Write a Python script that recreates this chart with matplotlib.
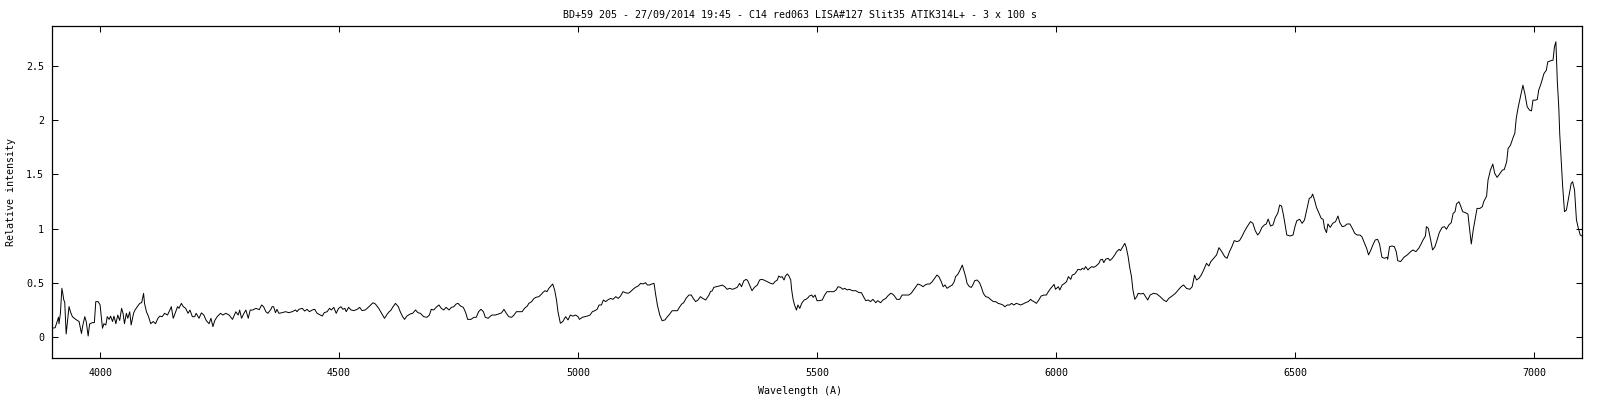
import matplotlib
matplotlib.use("Agg")
import matplotlib.pyplot as plt

title = "BD+59 205 - 27/09/2014 19:45 - C14 red063 LISA#127 Slit35 ATIK314L+ - 3 x 100 s"
xlabel = "Wavelength (A)"
ylabel = "Relative intensity"
xticks = [4000, 4500, 5000, 5500, 6000, 6500, 7000]
yticks = [0, 0.5, 1, 1.5, 2, 2.5]
yticklabels = ["0", "0.5", "1", "1.5", "2", "2.5"]

wavelength = [
    3900, 3906, 3910, 3913, 3914, 3917, 3920, 3922, 3924, 3926, 3929, 3932, 3935, 3938, 3942,
    3949, 3956, 3961, 3964, 3968, 3971, 3975, 3978, 3984, 3988, 3991, 3996, 4000, 4005, 4008,
    4012, 4015, 4019, 4022, 4026, 4029, 4033, 4037, 4041, 4045, 4048, 4051, 4055, 4058, 4062,
    4065, 4070, 4073, 4078, 4083, 4087, 4091, 4093, 4097, 4101, 4106, 4111, 4116, 4121, 4125,
    4130, 4135, 4141, 4146, 4149, 4153, 4157, 4162, 4165, 4170, 4174, 4179, 4184, 4188, 4193,
    4198, 4201, 4207, 4212, 4217, 4222, 4228, 4232, 4236, 4240, 4245, 4252, 4257, 4263, 4270,
    4277, 4284, 4289, 4292, 4296, 4301, 4305, 4310, 4314, 4319, 4326, 4333, 4338, 4342, 4347,
    4351, 4357, 4360,
    4363, 4367, 4370, 4374, 4381, 4388, 4395, 4402, 4409, 4412, 4416, 4423, 4428, 4433, 4438,
    4444, 4449, 4454, 4461, 4465, 4469, 4475, 4480, 4484, 4489, 4494, 4499, 4504, 4508, 4512,
    4515, 4520, 4525, 4531, 4538, 4543, 4548, 4555, 4561, 4566, 4571, 4576, 4583, 4589, 4595,
    4601, 4605, 4609, 4612, 4618, 4624, 4628, 4633, 4637, 4642, 4649, 4654, 4660, 4665, 4670,
    4677, 4684, 4689, 4693, 4698, 4703, 4709, 4714, 4719, 4724, 4730, 4735, 4740, 4745, 4749,
    4754, 4760, 4765, 4769, 4776, 4782, 4787, 4792, 4797, 4802, 4806, 4812, 4817, 4820,
    4827, 4834, 4840, 4845, 4850, 4855, 4861, 4866, 4871, 4876, 4883, 4888, 4894, 4897, 4903,
    4908, 4912, 4918, 4924, 4926, 4931, 4935, 4939, 4942, 4947, 4951, 4955, 4958, 4963, 4968,
    4974, 4979, 4984, 4989, 4995, 5000, 5003, 5009, 5014, 5019, 5025, 5030, 5035, 5040, 5044,
    5049, 5053, 5058, 5062, 5068, 5073, 5079, 5084, 5089, 5094, 5099, 5105, 5110, 5115, 5120,
    5126, 5131, 5136, 5141, 5145, 5150, 5154, 5159, 5162, 5166, 5171, 5176, 5182, 5187, 5192,
    5197, 5208, 5212, 5217, 5221, 5226, 5232, 5237, 5241, 5246, 5251, 5256, 5261, 5267, 5274,
    5277, 5281,
    5284, 5289, 5295, 5302, 5307, 5312, 5317, 5323, 5327, 5333, 5338, 5342, 5347, 5352, 5355,
    5359, 5364, 5369, 5375, 5380, 5384, 5389, 5396, 5403, 5408, 5412, 5417, 5420, 5424, 5427,
    5431, 5434, 5438, 5441, 5445, 5447, 5450, 5453, 5457, 5460, 5464, 5468, 5473, 5477, 5482,
    5484, 5489, 5492, 5496, 5500, 5505, 5511, 5516, 5521, 5528, 5535, 5540, 5544, 5549, 5554,
    5558, 5563, 5568, 5574, 5581, 5588, 5593, 5598, 5602, 5607, 5612, 5617, 5623, 5627, 5633,
    5638, 5644, 5648, 5654, 5658, 5662, 5667, 5673, 5678, 5685, 5692, 5697, 5701, 5706, 5711,
    5717, 5722, 5726, 5731, 5736, 5741,
    5746, 5751, 5755, 5760, 5764, 5768, 5772, 5777, 5783, 5787, 5790, 5795, 5800, 5804, 5807,
    5811, 5814, 5819, 5823, 5826, 5830, 5835, 5840, 5844, 5848, 5853, 5858, 5863, 5869, 5874,
    5879, 5884, 5889, 5893, 5898, 5903, 5907, 5912, 5917, 5921, 5926, 5931, 5936, 5942, 5947,
    5950, 5954, 5959, 5964, 5969, 5975, 5980, 5984, 5989, 5992, 5996, 5999, 6005, 6008, 6013,
    6018, 6022, 6026, 6031, 6034, 6039, 6043, 6046, 6052, 6055, 6059, 6062, 6067, 6070, 6075,
    6079, 6084, 6090, 6093, 6097, 6100, 6104, 6109, 6113, 6118, 6123, 6127, 6132, 6135, 6139,
    6144, 6147, 6151, 6154, 6158, 6161, 6165, 6169, 6172, 6177,
    6183, 6192, 6197, 6204, 6211, 6218, 6225, 6231, 6236, 6243, 6250, 6257, 6262, 6267, 6273,
    6280, 6285, 6290, 6294, 6299, 6304, 6309, 6315, 6320, 6324, 6330, 6336, 6341, 6347, 6353,
    6358, 6363, 6368, 6373, 6379, 6384, 6389, 6394, 6400, 6407, 6412, 6417, 6422, 6426, 6431,
    6436, 6440, 6444, 6449, 6454, 6459, 6464, 6468, 6472, 6476, 6480, 6483, 6490, 6496, 6500,
    6504, 6510, 6515, 6520, 6525, 6530, 6534, 6537, 6541, 6545, 6550, 6555, 6559, 6562, 6566,
    6569, 6574, 6579, 6585, 6590, 6594, 6599, 6604, 6609, 6615, 6620, 6625, 6630, 6636, 6640,
    6645, 6650, 6654, 6659, 6663, 6668, 6673, 6677, 6682, 6687, 6693, 6694, 6698, 6703, 6708,
    6712, 6715, 6721, 6728, 6735, 6742, 6747, 6753, 6759, 6764, 6768, 6773, 6775, 6779, 6784,
    6788, 6793, 6797, 6802, 6808, 6813, 6817, 6822, 6827, 6831, 6835, 6838, 6843, 6846, 6851,
    6857, 6862, 6865, 6869, 6873, 6878, 6881, 6887, 6892, 6895, 6901, 6904, 6909, 6914, 6918,
    6923, 6929, 6934, 6938, 6943, 6946, 6951, 6957, 6960, 6963, 6967, 6972, 6977, 6981, 6986,
    6991, 6995, 6998, 7003, 7007, 7010, 7015, 7021, 7026, 7029, 7035, 7040, 7043, 7046, 7049,
    7052, 7054, 7057, 7060, 7064, 7068, 7073, 7078, 7081, 7085, 7089, 7093, 7097, 7100,
]

intensity = [
    0.078, 0.083, 0.139, 0.18, 0.12, 0.216, 0.447, 0.40, 0.34, 0.32, 0.025, 0.15, 0.278, 0.23, 0.185,
    0.16, 0.14, 0.03, 0.108, 0.185, 0.14, 0.006, 0.117, 0.13, 0.13, 0.324, 0.324, 0.293, 0.078, 0.12,
    0.108, 0.185, 0.16, 0.19, 0.14, 0.19, 0.12, 0.20, 0.15, 0.262, 0.216, 0.12, 0.216, 0.17, 0.23,
    0.108, 0.216, 0.246, 0.278, 0.308, 0.315, 0.40, 0.308, 0.23, 0.19, 0.12, 0.14, 0.12, 0.17, 0.19,
    0.185, 0.216, 0.20, 0.246, 0.278, 0.17, 0.216, 0.278, 0.262, 0.308, 0.278, 0.262, 0.216, 0.246, 0.185,
    0.185, 0.216, 0.17, 0.22, 0.20, 0.15, 0.12, 0.17, 0.093, 0.15, 0.185, 0.216, 0.20, 0.216, 0.20,
    0.16, 0.23, 0.20, 0.246, 0.17, 0.216, 0.246, 0.17, 0.246, 0.246, 0.262, 0.25, 0.293, 0.278, 0.23,
    0.216, 0.25, 0.278,
    0.277, 0.222, 0.253, 0.216, 0.222, 0.231, 0.222, 0.231, 0.247, 0.231, 0.253, 0.262, 0.237, 0.253, 0.231,
    0.247, 0.253, 0.216, 0.20, 0.191, 0.222, 0.231, 0.262, 0.247, 0.271, 0.216, 0.262, 0.277, 0.253, 0.262,
    0.231, 0.271, 0.247, 0.241, 0.253, 0.271, 0.241, 0.247, 0.271, 0.293, 0.314, 0.302, 0.262, 0.216, 0.170,
    0.21, 0.231, 0.247, 0.271, 0.308, 0.277, 0.231, 0.185, 0.16, 0.191, 0.21, 0.216, 0.247, 0.222, 0.216,
    0.185, 0.179, 0.20, 0.253, 0.247, 0.271, 0.293, 0.262, 0.247, 0.271, 0.247, 0.271, 0.277, 0.302, 0.308,
    0.284, 0.271, 0.222, 0.16, 0.16, 0.179, 0.179, 0.231, 0.253, 0.231, 0.179, 0.17, 0.191, 0.20,
    0.20, 0.21, 0.22, 0.253, 0.216, 0.185, 0.179, 0.20, 0.231, 0.231, 0.231, 0.262, 0.284, 0.308, 0.324,
    0.354, 0.364, 0.37, 0.395, 0.407, 0.425, 0.416, 0.447, 0.462, 0.487, 0.432, 0.339, 0.231, 0.124, 0.139,
    0.185, 0.155, 0.20, 0.19, 0.20, 0.185, 0.16, 0.179, 0.185, 0.19, 0.20, 0.231, 0.24, 0.253, 0.293,
    0.293, 0.339, 0.324, 0.339, 0.354, 0.345, 0.37, 0.354, 0.376, 0.416, 0.407, 0.401, 0.416, 0.438, 0.456,
    0.469, 0.493, 0.487, 0.499, 0.478, 0.478, 0.487, 0.493, 0.401, 0.293, 0.20, 0.148, 0.155, 0.185, 0.21,
    0.24, 0.24, 0.271, 0.302, 0.314, 0.354, 0.385, 0.385, 0.354, 0.324, 0.339, 0.37, 0.354, 0.339, 0.385,
    0.416, 0.425,
    0.456, 0.462, 0.468, 0.477, 0.462, 0.438, 0.447, 0.438, 0.444, 0.456, 0.493, 0.462, 0.518, 0.53, 0.518,
    0.477, 0.425, 0.456, 0.477, 0.524, 0.53, 0.524, 0.509, 0.493, 0.487, 0.509, 0.524, 0.561, 0.549, 0.555,
    0.524, 0.561, 0.58, 0.564, 0.524, 0.432, 0.345, 0.293, 0.246, 0.293, 0.262, 0.308, 0.339, 0.345, 0.364,
    0.376, 0.385, 0.364, 0.385, 0.333, 0.333, 0.339, 0.385, 0.416, 0.416, 0.416, 0.432, 0.462, 0.456, 0.438,
    0.447, 0.432, 0.438, 0.425, 0.425, 0.407, 0.407, 0.364, 0.333, 0.339, 0.324, 0.345, 0.314, 0.333, 0.314,
    0.339, 0.354, 0.376, 0.401, 0.395, 0.376, 0.345, 0.345, 0.385, 0.385, 0.385, 0.401, 0.425, 0.456, 0.487,
    0.477, 0.462, 0.477, 0.487, 0.487, 0.508,
    0.539, 0.570, 0.555, 0.508, 0.462, 0.478, 0.447, 0.462, 0.478, 0.508, 0.555, 0.579, 0.623, 0.662, 0.617,
    0.555, 0.493, 0.462, 0.456, 0.478, 0.518, 0.524, 0.5, 0.456, 0.401, 0.370, 0.364, 0.345, 0.324, 0.324,
    0.308, 0.302, 0.293, 0.277, 0.293, 0.293, 0.308, 0.293, 0.308, 0.302, 0.293, 0.302, 0.314, 0.324, 0.345,
    0.333, 0.324, 0.308, 0.339, 0.376, 0.385, 0.385, 0.416, 0.447, 0.462, 0.484, 0.438, 0.462, 0.432, 0.478,
    0.493, 0.508, 0.555, 0.530, 0.570, 0.579, 0.601, 0.623, 0.617, 0.632, 0.623, 0.648, 0.617, 0.632, 0.648,
    0.641, 0.654, 0.679, 0.71, 0.716, 0.685, 0.716, 0.725, 0.704, 0.725, 0.756, 0.786, 0.808, 0.795, 0.826,
    0.863, 0.826, 0.740, 0.648, 0.555, 0.432, 0.345, 0.370, 0.401, 0.395,
    0.401, 0.339, 0.385, 0.401, 0.395, 0.370, 0.339, 0.324, 0.354, 0.376, 0.401, 0.438, 0.462, 0.478, 0.447,
    0.438, 0.462, 0.570, 0.524, 0.539, 0.570, 0.616, 0.678, 0.654, 0.694, 0.725, 0.756, 0.823, 0.786, 0.740,
    0.725, 0.786, 0.832, 0.888, 0.879, 0.888, 0.925, 0.971, 1.017, 1.064, 1.048, 0.980, 0.940, 0.962, 1.011,
    1.033, 1.042, 1.088, 1.023, 1.033, 1.103, 1.140, 1.217, 1.208, 1.125, 1.017, 0.940, 0.931, 0.940, 1.017,
    1.073, 1.085, 1.048, 1.079, 1.177, 1.279, 1.288, 1.319, 1.263, 1.196, 1.146, 1.094, 1.085, 1.002, 0.962,
    1.042, 1.011, 1.048, 1.064, 1.116, 1.054, 1.017, 1.023, 1.042, 1.042, 1.002, 0.956, 0.940, 0.940, 0.925,
    0.870, 0.817, 0.756, 0.802, 0.848, 0.894, 0.900, 0.857, 0.734, 0.725, 0.734, 0.716, 0.832, 0.839, 0.832,
    0.786, 0.703, 0.694, 0.734, 0.756, 0.786, 0.802, 0.786, 0.817, 0.857, 0.894, 0.931, 1.017, 1.002, 0.894,
    0.802, 0.832, 0.888, 0.962, 1.011, 1.017, 0.993, 1.033, 1.054, 1.140, 1.156, 1.227, 1.248, 1.217, 1.156,
    1.146, 1.134, 1.011, 0.857, 0.986, 1.110, 1.186, 1.186, 1.202, 1.248, 1.300, 1.448, 1.540, 1.596, 1.510,
    1.473, 1.510, 1.540, 1.546, 1.617, 1.740, 1.771, 1.848, 1.879, 2.017, 2.119, 2.224, 2.325, 2.248, 2.125,
    2.094, 2.088, 2.187, 2.187, 2.193, 2.279, 2.341, 2.433, 2.464, 2.541, 2.551, 2.557, 2.680, 2.727, 2.356,
    2.125, 1.879, 1.633, 1.402, 1.156, 1.171, 1.294, 1.417, 1.433, 1.356, 1.079, 1.002, 0.940, 0.931,
]

FONT = "DejaVu Sans Mono"
FS = 7.2

fig = plt.figure(figsize=(16, 4), dpi=100)
ax = fig.add_axes([52.3 / 1600, 1 - 358.3 / 400, (1581.7 - 52.3) / 1600, (358.3 - 26.3) / 400])
ax.plot(wavelength, intensity, color="black", linewidth=0.7, antialiased=True)

ax.set_xlim(3900, 7100)
ax.set_ylim(-0.2, 2.87)
ax.set_xticks(xticks)
ax.set_xticklabels([str(t) for t in xticks], fontsize=FS, family=FONT)
ax.set_yticks(yticks)
ax.set_yticklabels(yticklabels, fontsize=FS, family=FONT)
ax.tick_params(direction="in", length=4, width=0.75, top=True, right=True, colors="black")
ax.tick_params(axis="x", pad=7)
ax.tick_params(axis="y", pad=6)
for s in ax.spines.values():
    s.set_linewidth(0.9)
    s.set_color("black")

fig.text(0.5, 1 - 15 / 400, title, ha="center", va="center", fontsize=FS, family=FONT)
fig.text(0.5, 1 - 390.5 / 400, xlabel, ha="center", va="center", fontsize=FS, family=FONT)
fig.text(11 / 1600, 0.5 * ((1 - 358.3 / 400) + (1 - 26.3 / 400)), ylabel, ha="center", va="center",
         rotation=90, fontsize=FS, family=FONT)

fig.savefig("out.png", dpi=100)
